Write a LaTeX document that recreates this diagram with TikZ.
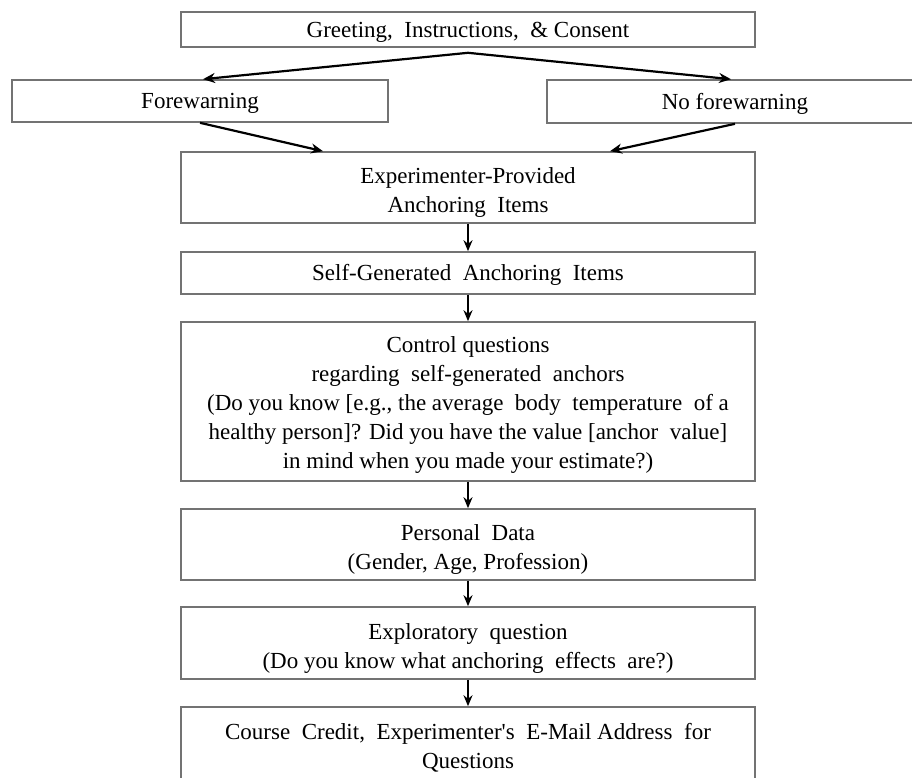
\documentclass[tikz,border=0pt]{standalone}
\usepackage{fontspec}
\setmainfont{Liberation Serif}[Ligatures=TeXOff]
\usetikzlibrary{arrows.meta,calc}
\newcommand\tstrut[1]{\rule{0pt}{#1}}
\begin{document}
\begin{tikzpicture}[x=1pt,y=-1pt,
  box/.style={draw=black!55,line width=1.6pt,align=center,inner sep=0pt,
    font=\fontsize{23}{29}\selectfont,minimum width=574pt},
  onebox/.style={box,execute at begin node={\rule{0pt}{21pt}},
    execute at end node={\rule[-6pt]{0pt}{0pt}}},
  arr/.style={-{Stealth[length=11pt,width=9pt]},line width=1.8pt,black},
  darr/.style={-{Stealth[length=12pt,width=10pt]},line width=2.2pt,black}]
\clip (0,0) rectangle (912,777);
\useasboundingbox (0,0) rectangle (912,777);
\node[onebox,minimum height=35pt] (greet) at (468,29.5) {Greeting,\ \ Instructions,\ \ \& Consent};
\node[onebox,minimum width=376pt,minimum height=42pt] (fore) at (200,101) {Forewarning};
\node[onebox,minimum width=376pt,minimum height=43pt] (nofore) at (735,101.5) {No forewarning};
\node[box,minimum height=71pt] (exp) at (468,187.5) {\tstrut{26pt}Experimenter-Provided\\ Anchoring\ \ Items};
\node[onebox,minimum height=42pt] (self) at (468,273) {Self-Generated\ \ Anchoring\ \ Items};
\node[box,minimum height=159pt] (ctrl) at (468,401.5) {\tstrut{22pt}Control questions\\ regarding\ \ self-generated\ \ anchors\\ (Do you know [e.g., the average\ \ body\ \ temperature\ \ of a\\ healthy person]? Did you have the value [anchor\ \ value]\\ in mind when you made your estimate?)};
\node[box,minimum height=71pt] (pers) at (468,544.5) {\tstrut{26pt}Personal\ \ Data\\ (Gender, Age, Profession)};
\node[box,minimum height=72pt] (expl) at (468,643) {\tstrut{27pt}Exploratory\ \ question\\ (Do you know what anchoring\ \ effects\ \ are?)};
\node[box,minimum height=73pt] (cred) at (468,743.5) {\tstrut{24pt}Course\ \ Credit,\ \ Experimenter's\ \ E-Mail Address\ \ for\\ Questions};
\coordinate (gs) at ($(greet.south)+(0,5)$);
\coordinate (fn) at ($(fore.north)+(3,0)$);
\coordinate (nn) at ($(nofore.north)+(-4,0)$);
\coordinate (fs) at (fore.south);
\coordinate (ns) at (nofore.south);
\coordinate (el) at ($(exp.north)+(-145,0)$);
\coordinate (er) at ($(exp.north)+(142,0)$);
\draw[darr] (gs) -- (fn);
\draw[darr] (gs) -- (nn);
\draw[darr] (fs) -- (el);
\draw[darr] (ns) -- (er);
\draw[arr] (exp) -- (self);
\draw[arr] (self) -- (ctrl);
\draw[arr] (ctrl) -- (pers);
\draw[arr] (pers) -- (expl);
\draw[arr] (expl) -- (cred);
\end{tikzpicture}
\end{document}
